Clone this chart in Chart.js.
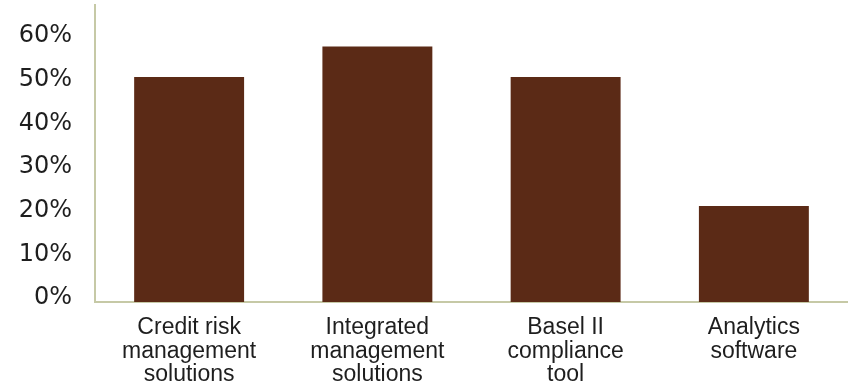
<!DOCTYPE html>
<html lang="en">
	<head>
		<meta charset="UTF-8" />
		<title>Solutions bar chart</title>
		<script src="https://cdn.jsdelivr.net/npm/chart.js"></script>
		<style>
			html, body { margin: 0; padding: 0; background: #ffffff; }
			#wrap { width: 848px; height: 389px; }
		</style>
	</head>
	<body>
		<div id="wrap"><canvas id="barChart" width="848" height="389"></canvas></div>
		<script>
			// chart data
			const categories = [
				["Credit risk", "management", "solutions"],
				["Integrated", "management", "solutions"],
				["Basel II", "compliance", "tool"],
				["Analytics", "software"],
			];
			const shares = [51.5, 58.5, 51.5, 22];
			const yTicks = [0, 10, 20, 30, 40, 50, 60];

			const axisColor = "#c6c9a6";

			const ctx = document.getElementById("barChart").getContext("2d");
			new Chart(ctx, {
				type: "bar",
				data: {
					labels: categories,
					datasets: [
						{
							data: shares,
							backgroundColor: "#5b2a16",
							borderWidth: 0,
							barPercentage: 0.584,
							categoryPercentage: 1,
						},
					],
				},
				options: {
					responsive: false,
					animation: false,
					layout: { padding: { top: 5, right: 0, left: 0, bottom: 0 } },
					plugins: { legend: { display: false }, tooltip: { enabled: false } },
					scales: {
						x: {
							grid: { display: false, drawTicks: false },
							border: { display: true, color: axisColor, width: 2 },
							ticks: {
								color: "#1e1e1e",
								font: { family: "Liberation Sans", size: 23, lineHeight: 1.02 },
								padding: 14,
								maxRotation: 0,
								autoSkip: false,
							},
							afterFit: (scale) => {
								scale.height = 87;
								scale.paddingLeft = 0;
								scale.paddingRight = 0;
							},
						},
						y: {
							min: 0,
							max: 68,
							grid: { display: false, drawTicks: false },
							border: { display: true, color: axisColor, width: 2 },
							afterBuildTicks: (scale) => {
								scale.ticks = yTicks.map((v) => ({ value: v }));
							},
							ticks: {
								color: "#1e1e1e",
								font: { family: "DejaVu Sans", size: 24 },
								padding: 23,
								labelOffset: -4,
								callback: (v) => v + "%",
							},
							afterFit: (scale) => {
								scale.width = 95;
								scale.paddingTop = 0;
								scale.paddingBottom = 0;
							},
						},
					},
				},
			});
		</script>
	</body>
</html>
